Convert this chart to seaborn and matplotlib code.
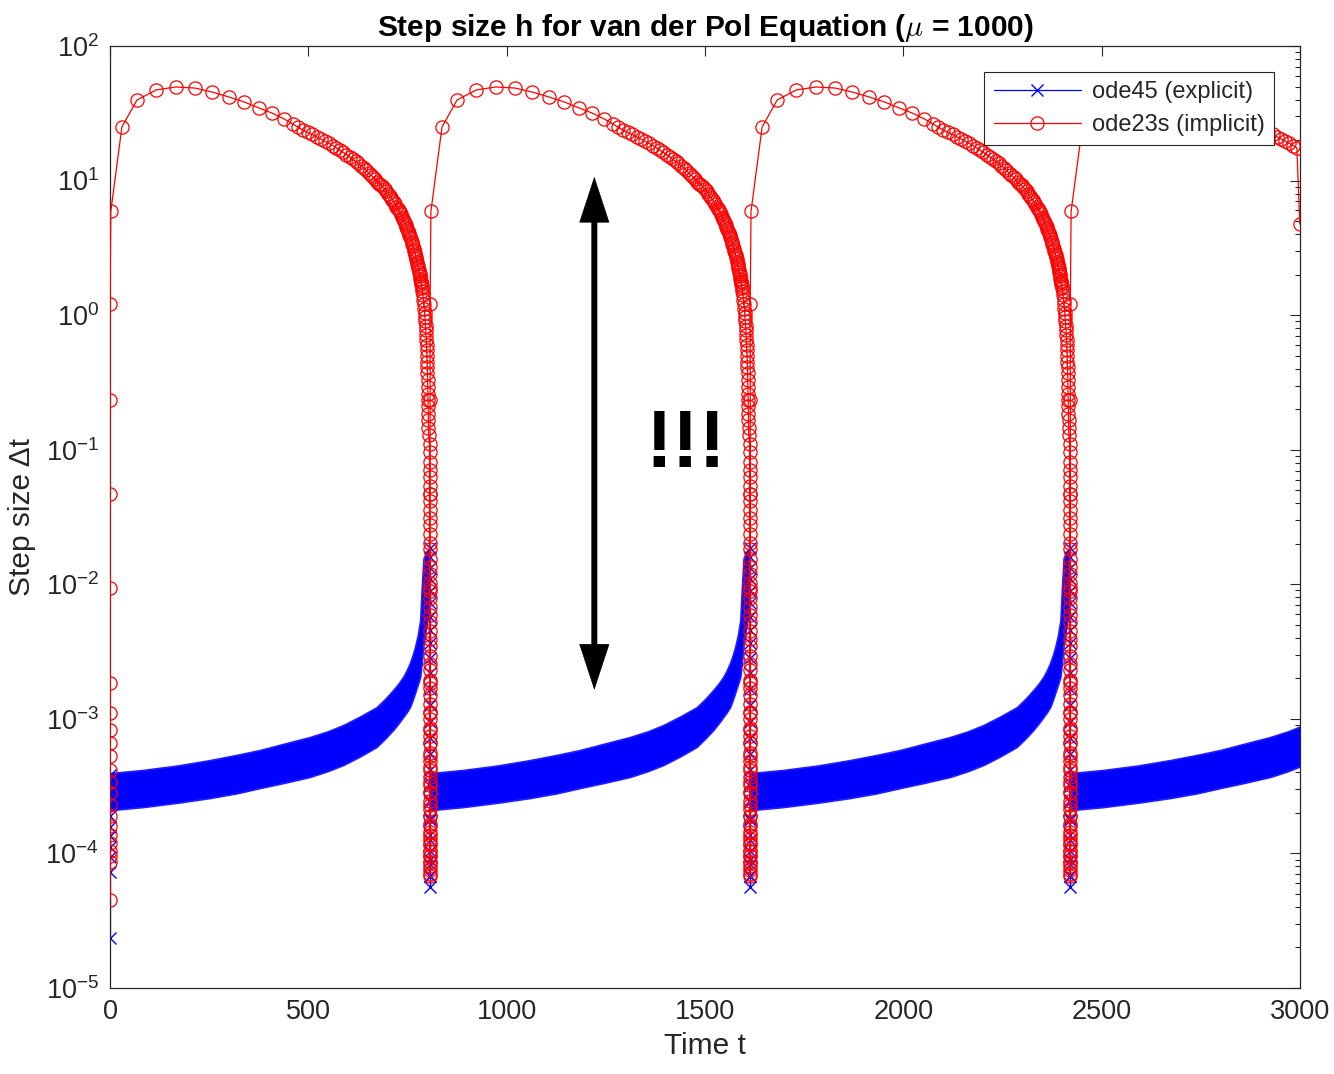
import numpy as np
import pandas as pd
import matplotlib
matplotlib.use("Agg")
from matplotlib import pyplot as plt
from matplotlib import ticker
import seaborn as sns

# start of each relaxation cycle (fast jump)
cycle_start = [0, 807, 1614, 2421]
t_end = 3000

# ---- ode23s (implicit), offsets are from the cycle start ----
red_first_h = [4.5e-5]                      # very first step at t = 0
red_rise_h = [8.7e-5, 9.5e-5, 1.05e-4, 1.2e-4, 1.38e-4, 1.6e-4, 1.9e-4, 2.3e-4,
              2.8e-4, 3.4e-4, 4.2e-4, 5.3e-4, 6.6e-4, 8.3e-4, 1.1e-3, 1.85e-3,
              9.4e-3, 4.7e-2, 0.236, 1.2]
red_arc_dt = [2, 30, 68, 116, 166, 214, 257, 300, 338, 376, 408, 439, 461]
red_arc_h = [5.9, 25.0, 39.7, 47.1, 49.6, 48.7, 45.5, 41.8, 38.4, 34.6, 31.8, 28.7, 26.3]
red_desc_dt = [474, 487, 498, 510, 521, 532, 542, 552, 562, 571,
               580, 588, 596, 604, 612, 619, 626, 633, 640, 646,
               652, 658, 664, 669, 674, 679, 684, 688, 693, 697,
               701, 705, 709, 712, 716, 719, 722, 725, 728, 731,
               734, 736, 739, 741, 743, 745, 747, 749, 751, 753,
               755, 757, 759, 760.5, 762, 764, 765.5, 767, 768.5, 770,
               771.3, 772.5, 773.8, 775, 776.1, 777.2, 778.3, 779.3, 780.3, 781.2,
               782.1, 783, 783.8, 784.6, 785.3, 786, 787.4, 788.7, 789.9, 791,
               792, 793, 793.8, 794.6, 795.4, 796.1, 796.8, 797.4, 798, 798.5,
               799, 799.5, 799.9, 800.3, 800.7, 801.1, 801.4, 801.7, 802, 802.3,
               802.6, 802.9, 803.2]
red_desc_h = [25.0, 23.7, 22.8, 22.0, 21.1, 20.3, 19.6, 18.9, 18.2, 17.5,
              16.8, 16.2, 15.6, 15.0, 14.4, 13.9, 13.4, 12.9, 12.4, 11.9,
              11.4, 11.0, 10.6, 10.2, 9.8, 9.5, 9.2, 8.9, 8.6, 8.3,
              8.0, 7.7, 7.4, 7.2, 6.9, 6.7, 6.4, 6.2, 6.0, 5.8,
              5.6, 5.4, 5.2, 5.0, 4.85, 4.7, 4.55, 4.4, 4.25, 4.1,
              3.95, 3.8, 3.65, 3.5, 3.38, 3.25, 3.12, 3.0, 2.9, 2.8,
              2.7, 2.6, 2.5, 2.4, 2.32, 2.25, 2.17, 2.1, 2.02, 1.95,
              1.87, 1.8, 1.75, 1.7, 1.65, 1.6, 1.5, 1.4, 1.3, 1.2,
              1.12, 1.04, 0.97, 0.9, 0.83, 0.77, 0.71, 0.65, 0.6, 0.55,
              0.5, 0.45, 0.41, 0.37, 0.33, 0.29, 0.26, 0.234, 0.21, 0.185,
              0.165, 0.145, 0.128]
red_col_dt = 805.5
red_col_log = [-0.96, -1.02, -1.09, -1.15, -1.20, -1.27, -1.33, -1.38, -1.45, -1.51,
               -1.56, -1.63, -1.69, -1.74, -1.81, -1.87, -1.92, -1.99, -2.05, -2.10,
               -2.17, -2.23, -2.28, -2.35, -2.41, -2.46, -2.53, -2.59, -2.64, -2.71,
               -2.77, -2.82, -2.89, -2.95, -3.00, -3.07, -3.13, -3.18, -3.25, -3.31,
               -3.36, -3.43, -3.49, -3.54, -3.61, -3.67, -3.72, -3.78, -3.84, -3.89,
               -3.94, -3.98, -4.02, -4.06, -4.09, -4.12, -4.15, -4.17]
red_tail_t = [2999.5]
red_tail_h = [4.75]

# ---- ode45 (explicit) ----
blue_first_log = [-4.63, -4.14, -4.03, -3.95, -3.87, -3.80, -3.72, -3.64, -3.56, -3.48, -3.42]
blue_col_dt = 806
blue_col_log = [-1.73, -1.80, -1.88, -1.96, -2.05, -2.14, -2.24, -2.34, -2.44, -2.55,
                -2.66, -2.78, -2.90, -3.02, -3.14, -3.26, -3.38, -3.50, -3.62, -3.74,
                -3.86, -3.98, -4.08, -4.17, -4.25, -4.17, -4.05, -3.90, -3.75, -3.60, -3.48]
band_dt = [3, 83, 170, 252, 320, 378, 440, 504, 550, 588,
           630, 672, 695, 714, 728, 739, 748, 756, 763, 769,
           776, 782, 786, 790, 795, 800, 805]
band_hi = [3.96e-4, 4.17e-4, 4.5e-4, 4.94e-4, 5.4e-4, 5.87e-4, 6.55e-4, 7.33e-4, 8.1e-4, 9.0e-4,
           1.04e-3, 1.22e-3, 1.42e-3, 1.64e-3, 1.84e-3, 2.05e-3, 2.3e-3, 2.60e-3, 2.98e-3, 3.42e-3,
           4.2e-3, 5.43e-3, 9.5e-3, 1.52e-2, 1.65e-2, 1.76e-2, 1.86e-2]
band_lo = [2.10e-4, 2.21e-4, 2.38e-4, 2.58e-4, 2.8e-4, 3.06e-4, 3.35e-4, 3.70e-4, 4.1e-4, 4.54e-4,
           5.25e-4, 6.18e-4, 7.2e-4, 8.27e-4, 9.3e-4, 1.03e-3, 1.12e-3, 1.22e-3, 1.38e-3, 1.56e-3,
           1.8e-3, 2.05e-3, 2.60e-3, 3.54e-3, 4.4e-3, 5.4e-3, 7.6e-3]

y_ticks = [1e-5, 1e-4, 1e-3, 1e-2, 1e-1, 1e0, 1e1, 1e2]
x_ticks = [0, 500, 1000, 1500, 2000, 2500, 3000]

# annotation
arrow_t = 1221
arrow_top = 10.7
arrow_bot = 1.64e-3
bang_t = 1452
bang_h = 0.0745

# build the ode23s series
rt, rh = [], []
for k, T in enumerate(cycle_start):
    if k == 0:
        rt += [T] * len(red_first_h)
        rh += red_first_h
    rt += [T] * len(red_rise_h)
    rh += red_rise_h
    rt += [T + d for d in red_arc_dt]
    rh += red_arc_h
    rt += [T + d for d in red_desc_dt]
    rh += red_desc_h
    rt += [T + red_col_dt] * len(red_col_log)
    rh += [10 ** v for v in red_col_log]
red = pd.DataFrame({"t": rt, "h": rh})
red = red[red.t <= t_end]
red = pd.concat([red, pd.DataFrame({"t": red_tail_t, "h": red_tail_h})], ignore_index=True)

# ode45 vertical clusters at the jumps
bt, bh, bu = [], [], []
bt += [0] * len(blue_first_log)
bh += [10 ** v for v in blue_first_log]
bu += [0] * len(blue_first_log)
for k, T in enumerate(cycle_start):
    if T + blue_col_dt <= t_end:
        bt += [T + blue_col_dt] * len(blue_col_log)
        bh += [10 ** v for v in blue_col_log]
        bu += [k + 1] * len(blue_col_log)
blue = pd.DataFrame({"t": bt, "h": bh, "u": bu})

sns.set_style("white")
plt.rcParams["font.family"] = ["Liberation Sans", "DejaVu Sans"]
plt.rcParams["mathtext.fontset"] = "cm"

fig = plt.figure(figsize=(13.34, 10.74), dpi=100)
ax = fig.add_axes([110 / 1334, 1 - 988 / 1074, 1190 / 1334, 942 / 1074])

# dense explicit steps drawn as a band
for T in cycle_start:
    ax.fill_between([T + d for d in band_dt], band_lo, band_hi,
                    color="#0000ff", lw=1.2, edgecolor="#2020ff", zorder=2)

sns.lineplot(data=blue, x="t", y="h", units="u", estimator=None, sort=False,
             color="#0000ff", lw=0.9, marker="x", markersize=9,
             markeredgewidth=1.0, markeredgecolor="#0000ff",
             label="ode45 (explicit)", ax=ax, zorder=2.5)
sns.lineplot(data=red, x="t", y="h", estimator=None, sort=False,
             color="#ff0000", lw=0.9, marker="o", markersize=9.5,
             markerfacecolor="none", markeredgewidth=0.9, markeredgecolor="#ff0000",
             label="ode23s (implicit)", ax=ax, zorder=3)

ax.set_yscale("log")
ax.set_xlim(0, t_end)
ax.set_ylim(1e-5, 1e2)
ax.set_xticks(x_ticks)
ax.yaxis.set_major_locator(ticker.FixedLocator(y_ticks))
ax.yaxis.set_major_formatter(ticker.LogFormatterSciNotation())
ax.yaxis.set_minor_locator(ticker.LogLocator(base=10, subs=np.arange(2, 10), numticks=20))
ax.yaxis.set_minor_formatter(ticker.NullFormatter())

gray = "#262626"
ax.tick_params(which="both", direction="in", top=True, right=True, colors=gray,
               labelsize=19.5, width=0.8)
ax.tick_params(which="major", length=7, pad=8)
ax.tick_params(which="minor", length=3.5)
for s in ax.spines.values():
    s.set_color(gray)
    s.set_linewidth(0.9)

ax.set_title("Step size h for van der Pol Equation ($\\mu$ = 1000)",
             fontsize=21.5, fontweight="bold", color="black", pad=7)
ax.set_xlabel("Time t", fontsize=21.5, color=gray, labelpad=5)
ax.set_ylabel("Step size \u0394t", fontsize=21.5, color=gray, labelpad=7)

# the double arrow and the exclamation
ax.annotate("", xy=(arrow_t, arrow_top), xytext=(arrow_t, arrow_bot),
            arrowprops=dict(arrowstyle="-", lw=4.3, color="black", shrinkA=28, shrinkB=28))
ax.annotate("", xy=(arrow_t, arrow_top), xytext=(arrow_t, arrow_bot),
            arrowprops=dict(arrowstyle="<|-|>,head_length=3.2,head_width=1.05", lw=0.5,
                            color="black", mutation_scale=10, shrinkA=0, shrinkB=0))
ax.text(bang_t, bang_h, "!!!", fontsize=58, fontweight="bold", color="black",
        ha="center", va="baseline")

handles, labels = ax.get_legend_handles_labels()
uniq = dict(zip(labels, handles))
leg = ax.legend([uniq["ode45 (explicit)"], uniq["ode23s (implicit)"]],
                ["ode45 (explicit)", "ode23s (implicit)"],
                loc="upper right", fontsize=17, fancybox=False, framealpha=1,
                edgecolor=gray, handlelength=3.7, handletextpad=0.45,
                borderaxespad=1.1, labelspacing=0.45, borderpad=0.4)
leg.get_frame().set_linewidth(0.8)
leg.set_zorder(10)

fig.savefig("out.png", dpi=100)
